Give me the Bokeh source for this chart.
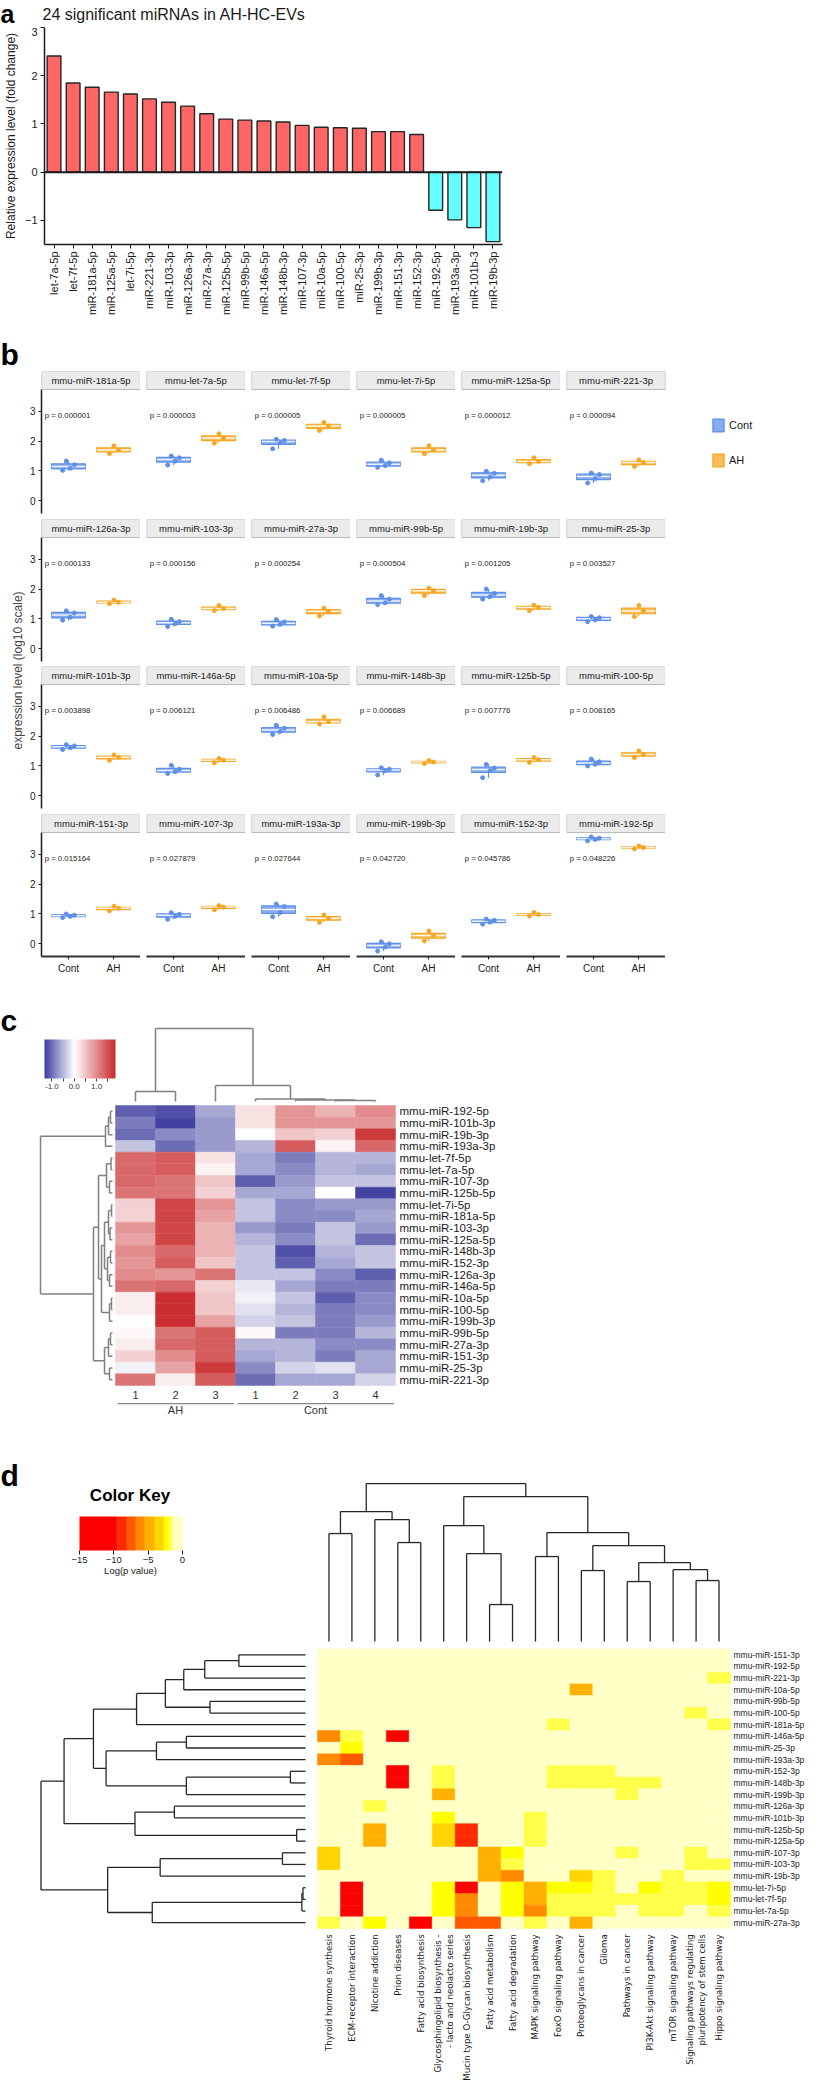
import math
import numpy as np
from bokeh.plotting import figure
from bokeh.layouts import column, row
from bokeh.models import (Range1d, FactorRange, FixedTicker, Span, Label, Legend, LegendItem,
                          ColumnDataSource, LinearColorMapper, ColorBar, BoxAnnotation,
                          PrintfTickFormatter)
from bokeh.core.properties import value
from bokeh.embed import file_html
from bokeh.resources import INLINE

FONT = "Liberation Sans"
INK = "#1a1a1a"

# ---------------- panel a data ----------------
title_a = "24 significant miRNAs in AH-HC-EVs"
mirna_a = ["let-7a-5p", "let-7f-5p", "miR-181a-5p", "miR-125a-5p", "let-7i-5p", "miR-221-3p",
           "miR-103-3p", "miR-126a-3p", "miR-27a-3p", "miR-125b-5p", "miR-99b-5p", "miR-146a-5p",
           "miR-148b-3p", "miR-107-3p", "miR-10a-5p", "miR-100-5p", "miR-25-3p", "miR-199b-3p",
           "miR-151-3p", "miR-152-3p", "miR-192-5p", "miR-193a-3p", "miR-101b-3", "miR-19b-3p"]
fold_change_a = [2.41, 1.85, 1.76, 1.66, 1.62, 1.52, 1.45, 1.37, 1.21, 1.10, 1.08, 1.06,
                 1.04, 0.97, 0.93, 0.92, 0.91, 0.84, 0.84, 0.78, -0.79, -0.99, -1.15, -1.44]
ticks_a = [-1, 0, 1, 2, 3]

# ---------------- panel b data ----------------
facet_mirna = ["mmu-miR-181a-5p", "mmu-let-7a-5p", "mmu-let-7f-5p", "mmu-let-7i-5p", "mmu-miR-125a-5p", "mmu-miR-221-3p",
               "mmu-miR-126a-3p", "mmu-miR-103-3p", "mmu-miR-27a-3p", "mmu-miR-99b-5p", "mmu-miR-19b-3p", "mmu-miR-25-3p",
               "mmu-miR-101b-3p", "mmu-miR-146a-5p", "mmu-miR-10a-5p", "mmu-miR-148b-3p", "mmu-miR-125b-5p", "mmu-miR-100-5p",
               "mmu-miR-151-3p", "mmu-miR-107-3p", "mmu-miR-193a-3p", "mmu-miR-199b-3p", "mmu-miR-152-3p", "mmu-miR-192-5p"]
facet_pvalue = [0.000001, 0.000003, 0.000005, 0.000005, 0.000012, 0.000094,
                0.000133, 0.000156, 0.000254, 0.000504, 0.001205, 0.003527,
                0.003898, 0.006121, 0.006486, 0.006689, 0.007776, 0.008165,
                0.015164, 0.027879, 0.027644, 0.042720, 0.045786, 0.048226]
cont_levels = [[1.02, 1.09, 1.21, 1.33], [1.20, 1.33, 1.44, 1.50], [1.74, 1.94, 2.02, 2.06], [1.12, 1.18, 1.27, 1.36],
               [0.67, 0.80, 0.92, 0.99], [0.60, 0.75, 0.88, 0.93], [0.96, 1.06, 1.20, 1.27], [0.75, 0.84, 0.91, 0.99],
               [0.76, 0.82, 0.90, 0.98], [1.48, 1.54, 1.66, 1.78], [1.66, 1.75, 1.85, 2.00], [0.91, 0.97, 1.04, 1.08],
               [1.55, 1.61, 1.67, 1.71], [0.75, 0.81, 0.89, 1.02], [2.05, 2.15, 2.26, 2.36], [0.70, 0.84, 0.89, 0.94],
               [0.61, 0.84, 0.93, 1.05], [1.00, 1.06, 1.14, 1.23], [0.88, 0.92, 0.96, 1.00], [0.82, 0.92, 0.99, 1.04],
               [0.91, 1.05, 1.25, 1.33], [-0.24, -0.10, 0.00, 0.07], [0.66, 0.73, 0.79, 0.83], [3.44, 3.49, 3.53, 3.57]]
ah_levels = [[1.58, 1.70, 1.84], [1.93, 2.10, 2.24], [2.35, 2.50, 2.62], [1.58, 1.70, 1.84],
             [1.24, 1.32, 1.44], [1.15, 1.28, 1.37], [1.51, 1.56, 1.63], [1.28, 1.35, 1.45],
             [1.10, 1.26, 1.36], [1.78, 1.94, 2.03], [1.28, 1.38, 1.46], [1.08, 1.27, 1.45],
             [1.19, 1.29, 1.37], [1.11, 1.19, 1.25], [2.40, 2.48, 2.64], [1.08, 1.13, 1.18],
             [1.12, 1.21, 1.28], [1.28, 1.38, 1.50], [1.10, 1.19, 1.26], [1.14, 1.23, 1.28],
             [0.72, 0.86, 0.97], [0.10, 0.28, 0.43], [0.93, 0.98, 1.05], [3.17, 3.22, 3.27]]
groups_b = ["Cont", "AH"]
ticks_b = [0, 1, 2, 3]

# ---------------- panel c data ----------------
rows_c = ["mmu-miR-192-5p", "mmu-miR-101b-3p", "mmu-miR-19b-3p", "mmu-miR-193a-3p", "mmu-let-7f-5p", "mmu-let-7a-5p",
          "mmu-miR-107-3p", "mmu-miR-125b-5p", "mmu-let-7i-5p", "mmu-miR-181a-5p", "mmu-miR-103-3p", "mmu-miR-125a-5p",
          "mmu-miR-148b-3p", "mmu-miR-152-3p", "mmu-miR-126a-3p", "mmu-miR-146a-5p", "mmu-miR-10a-5p", "mmu-miR-100-5p",
          "mmu-miR-199b-3p", "mmu-miR-99b-5p", "mmu-miR-27a-3p", "mmu-miR-151-3p", "mmu-miR-25-3p", "mmu-miR-221-3p"]
cols_c = ["1", "2", "3", "1", "2", "3", "4"]
groups_c = [("AH", 0, 3), ("Cont", 3, 7)]
heat_c = [[-1.1, -1.2, -0.6, 0.25, 0.9, 0.65, 1.0],
          [-0.9, -1.3, -0.7, 0.25, 0.9, 0.9, 0.9],
          [-1.0, -0.8, -0.7, 0.0, 0.5, 0.4, 1.7],
          [-0.4, -1.0, -0.7, -0.5, 1.4, 0.1, 1.3],
          [1.3, 1.4, 0.25, -0.6, -0.9, -0.5, -0.5],
          [1.3, 1.4, 0.1, -0.6, -0.8, -0.5, -0.6],
          [1.3, 1.2, 0.5, -1.1, -0.7, -0.4, -0.4],
          [1.2, 1.2, 0.4, -0.6, -0.6, 0.0, -1.3],
          [0.4, 1.6, 0.9, -0.4, -0.8, -0.7, -0.7],
          [0.4, 1.6, 0.8, -0.4, -0.8, -0.8, -0.6],
          [0.9, 1.6, 0.65, -0.7, -0.9, -0.4, -0.7],
          [0.8, 1.6, 0.65, -0.5, -0.8, -0.4, -1.0],
          [1.0, 1.3, 0.65, -0.4, -1.2, -0.5, -0.4],
          [0.9, 1.4, 0.5, -0.4, -1.1, -0.6, -0.4],
          [1.0, 0.9, 1.2, -0.4, -0.4, -0.8, -1.1],
          [1.2, 1.3, 0.4, -0.15, -0.6, -0.9, -0.9],
          [0.15, 1.8, 0.5, -0.1, -0.4, -1.1, -0.8],
          [0.15, 1.8, 0.5, -0.2, -0.5, -0.9, -0.8],
          [0.0, 1.8, 0.8, -0.3, -0.4, -0.9, -0.7],
          [0.05, 1.2, 1.4, 0.05, -0.9, -0.9, -0.5],
          [0.15, 1.3, 1.4, -0.5, -0.5, -0.8, -0.8],
          [0.4, 1.0, 1.4, -0.6, -0.5, -0.9, -0.6],
          [-0.1, 0.8, 1.7, -0.8, -0.3, -0.2, -0.6],
          [1.2, 0.15, 1.4, -1.0, -0.6, -0.6, -0.3]]
key_c_low, key_c_high = -1.33, 1.85
# dendrograms: (height, left, right); leaves are indices
tree_c_cols = (73, (10, 0, 1), (16, 2, (2.5, 3, (1.5, 4, (1, 5, 6)))))
tree_c_rows = (72,
               (7, (4, (2, 0, 1), 2), 3),
               (19,
                (14, (6, (1.5, 4, 5), (3, 6, 7)),
                 (11, (8, (4, (1, 8, 9), (2.5, 10, 11)), (5, (2, 12, 13), (3, 14, 15))),
                  (3, (1, 16, 17), 18))),
                (8, (4, (2, 19, 20), 21), (3, 22, 23))))

# ---------------- panel d data ----------------
rows_d = ["mmu-miR-151-3p", "mmu-miR-192-5p", "mmu-miR-221-3p", "mmu-miR-10a-5p", "mmu-miR-99b-5p", "mmu-miR-100-5p",
          "mmu-miR-181a-5p", "mmu-miR-146a-5p", "mmu-miR-25-3p", "mmu-miR-193a-3p", "mmu-miR-152-3p", "mmu-miR-148b-3p",
          "mmu-miR-199b-3p", "mmu-miR-126a-3p", "mmu-miR-101b-3p", "mmu-miR-125b-5p", "mmu-miR-125a-5p", "mmu-miR-107-3p",
          "mmu-miR-103-3p", "mmu-miR-19b-3p", "mmu-let-7i-5p", "mmu-let-7f-5p", "mmu-let-7a-5p", "mmu-miR-27a-3p"]
cols_d = ["Thyroid hormone synthesis", "ECM-receptor interaction", "Nicotine addiction", "Prion diseases",
          "Fatty acid biosynthesis", "Glycosphingolipid biosynthesis -\n- lacto and neolacto series",
          "Mucin type O-Glycan biosynthesis", "Fatty acid metabolism", "Fatty acid degradation",
          "MAPK signaling pathway", "FoxO signaling pathway", "Proteoglycans in cancer", "Glioma",
          "Pathways in cancer", "PI3K-Akt signaling pathway", "mTOR signaling pathway",
          "Signaling pathways regulating\npluripotency of stem cells", "Hippo signaling pathway"]
logp_d = [
    [0, 0, 0, 0, 0, 0, 0, 0, 0, 0, 0, 0, 0, 0, 0, 0, 0, 0],
    [0, 0, 0, 0, 0, 0, 0, 0, 0, 0, 0, 0, 0, 0, 0, 0, 0, 0],
    [0, 0, 0, 0, 0, 0, 0, 0, 0, 0, 0, 0, 0, 0, 0, 0, 0, -1.7],
    [0, 0, 0, 0, 0, 0, 0, 0, 0, 0, 0, -4.5, 0, 0, 0, 0, 0, 0],
    [0, 0, 0, 0, 0, 0, 0, 0, 0, 0, 0, 0, 0, 0, 0, 0, 0, 0],
    [0, 0, 0, 0, 0, 0, 0, 0, 0, 0, 0, 0, 0, 0, 0, 0, -1.7, 0],
    [0, 0, 0, 0, 0, 0, 0, 0, 0, 0, -1.7, 0, 0, 0, 0, 0, 0, -1.7],
    [-6.0, -1.7, 0, -12, 0, 0, 0, 0, 0, 0, 0, 0, 0, 0, 0, 0, 0, 0],
    [0, -2.4, 0, 0, 0, 0, 0, 0, 0, 0, 0, 0, 0, 0, 0, 0, 0, 0],
    [-6.0, -7.0, 0, 0, 0, 0, 0, 0, 0, 0, 0, 0, 0, 0, 0, 0, 0, 0],
    [0, 0, 0, -12, 0, -1.7, 0, 0, 0, 0, -1.7, -1.7, -1.7, 0, 0, 0, 0, 0],
    [0, 0, 0, -12, 0, -1.7, 0, 0, 0, 0, -1.7, -1.7, -1.7, -1.7, -1.7, 0, 0, 0],
    [0, 0, 0, 0, 0, -4.8, 0, 0, 0, 0, 0, 0, 0, -1.7, 0, 0, 0, 0],
    [0, 0, -1.7, 0, 0, 0, 0, 0, 0, 0, 0, 0, 0, 0, 0, 0, 0, 0],
    [0, 0, 0, 0, 0, -2.4, 0, 0, 0, -1.7, 0, 0, 0, 0, 0, 0, 0, 0],
    [0, 0, -4.6, 0, 0, -3.6, -9.2, 0, 0, -1.7, 0, 0, 0, 0, 0, 0, 0, 0],
    [0, 0, -4.6, 0, 0, -3.6, -9.2, 0, 0, -1.7, 0, 0, 0, 0, 0, 0, 0, 0],
    [-4.0, 0, 0, 0, 0, 0, 0, -4.8, -2.2, 0, 0, 0, 0, -1.7, 0, 0, -1.7, 0],
    [-3.6, 0, 0, 0, 0, 0, 0, -4.8, -1.7, 0, 0, 0, 0, 0, 0, 0, -1.7, -1.7],
    [0, 0, 0, 0, 0, 0, 0, -4.8, -6.0, 0, 0, -3.9, -1.7, 0, 0, -1.7, 0, 0],
    [0, -12, 0, 0, 0, -2.4, -12, 0, -2.4, -4.8, -2.4, -2.4, -1.7, 0, -2.4, -1.7, -1.7, -2.4],
    [0, -12, 0, 0, 0, -2.4, -6.4, 0, -2.4, -5.2, -1.7, -1.7, -1.7, -1.7, -1.7, -1.7, -1.7, -2.4],
    [0, -12, 0, 0, 0, -2.4, -6.4, 0, -2.4, -6.0, -1.7, -1.7, -1.7, 0, -1.7, -1.7, 0, -1.7],
    [-1.7, 0, -2.4, 0, -12, 0, -7.6, -7.6, 0, -1.7, 0, -4.8, 0, 0, 0, 0, 0, 0],
]
key_d_breaks = [-15, -9.6, -8.2, -6.9, -5.5, -4.1, -2.75, -2.0, -1.4, 0]
key_d_colors = ["#FF0000", "#FF2A00", "#FF5A00", "#FF8A00", "#FFB000", "#FFD400", "#FFFF00", "#FFFF4A", "#FFFFC6"]
key_d_ticks = [-15, -10, -5, 0]
tree_d_rows = (264.6,
               (241.5,
                (212.1,
                 (169, (140.2, (121.8, (100.8, (66.7, 0, 1), 2), 3), (95.6, 4, 5)), 6),
                 (199.5, (149.1, (119.2, 7, 8), 9), (119.2, (15.2, 10, 11), 12))),
                (170.6, (131.2, 13, 14), (8.9, 15, 16))),
               (197.9, (145.4, (23.1, 17, 18), 19), (153.3, (3.7, (2.6, 20, 21), 22), 23)))
tree_d_cols = (158,
               (130, (108, 0, 1), (122, 2, (99, 3, 4))),
               (145, (116, 5, (88, 6, (37, 7, 8))),
                (109, (85, 9, 10), (96, (71, 11, 12), (79, (60, 13, 14), (72, 15, (61, 16, 17)))))))


# ---------------- helpers ----------------
def new_fig(**kw):
    p = figure(output_backend="svg", toolbar_location=None, **kw)
    if hasattr(p, "frame_align"):
        p.frame_align = False
    p.outline_line_color = None
    p.grid.visible = False
    p.background_fill_color = "white"
    p.border_fill_color = "white"
    return p


def header(height):
    # blank strip whose frame is the whole canvas, used for panel letters / titles
    return new_fig(x_range=Range1d(0, 1), y_range=Range1d(0, 1), frame_width=807, frame_height=height,
                   min_border_left=0, min_border_right=0, min_border_top=0, min_border_bottom=0,
                   x_axis_location=None, y_axis_location=None)


def style_axis(ax, size="11px"):
    ax.axis_line_color = INK
    ax.axis_line_width = 1.5
    ax.major_tick_line_color = INK
    ax.major_tick_out = 4
    ax.major_tick_in = 0
    ax.minor_tick_line_color = None
    ax.major_label_text_font = FONT
    ax.major_label_text_font_size = size
    ax.major_label_text_color = INK
    ax.major_label_standoff = 3
    ax.axis_label_text_font = FONT
    ax.axis_label_text_font_style = "normal"
    ax.axis_label_text_color = INK


def letter(p, txt, x, y, size="30px"):
    # y is the vertical middle of the em box, in canvas pixels from the top
    p.add_layout(Label(x=x, y=y, x_units="canvas", y_units="canvas", text=txt, text_font=FONT,
                       text_font_style="bold", text_font_size=size, text_color="black",
                       text_baseline="middle", text_align="left"))


def dendro(node, pos):
    if isinstance(node, int):
        return pos[node], 0.0, []
    h, a, b = node
    ca, ha_, sa = dendro(a, pos)
    cb, hb_, sb = dendro(b, pos)
    segs = sa + sb + [(ca, ha_, ca, h), (cb, hb_, cb, h), (ca, h, cb, h)]
    return (ca + cb) / 2.0, h, segs


def draw_dendro(p, tree, n, base, scale, orient, **kw):
    _, _, segs = dendro(tree, [i + 0.5 for i in range(n)])
    if orient == "col":
        p.segment(x0=[s[0] for s in segs], y0=[base - s[1] * scale for s in segs],
                  x1=[s[2] for s in segs], y1=[base - s[3] * scale for s in segs], **kw)
    else:
        p.segment(x0=[base - s[1] * scale for s in segs], y0=[s[0] for s in segs],
                  x1=[base - s[3] * scale for s in segs], y1=[s[2] for s in segs], **kw)


def hex_mix(c1, c2, f):
    a = [int(c1[i:i + 2], 16) for i in (1, 3, 5)]
    b = [int(c2[i:i + 2], 16) for i in (1, 3, 5)]
    return "#%02x%02x%02x" % tuple(int(round(a[k] + (b[k] - a[k]) * f)) for k in range(3))


# ---------------- panel a ----------------
ha = header(27)
letter(ha, "a", 0, 13.5, "25px")
ha.add_layout(Label(x=42, y=14, x_units="canvas", y_units="canvas", text=title_a, text_font=FONT,
                    text_font_size="16px", text_color=INK, text_baseline="middle", text_align="left"))

fa = new_fig(x_range=FactorRange(factors=mirna_a), y_range=Range1d(-1.5, 3.0),
             frame_width=458, frame_height=217, min_border_left=41, min_border_right=308,
             min_border_top=0, min_border_bottom=93)
src_a = ColumnDataSource(dict(x=mirna_a, top=fold_change_a,
                              color=["#FF6666" if v > 0 else "#66FFFF" for v in fold_change_a]))
fa.vbar(x="x", top="top", bottom=0, width=0.72, fill_color="color", line_color="#262626",
        line_width=1.4, source=src_a)
fa.add_layout(Span(location=0, dimension="width", line_color=INK, line_width=2))
style_axis(fa.xaxis[0], "11px")
style_axis(fa.yaxis[0], "11px")
fa.xaxis.major_label_orientation = math.pi / 2
fa.yaxis.ticker = FixedTicker(ticks=ticks_a)
fa.yaxis.axis_label = "Relative expression level (fold change)"
fa.yaxis.axis_label_text_font_size = "12px"
fa.yaxis.axis_label_standoff = 4

# ---------------- panel b ----------------
hb = header(34)
letter(hb, "b", 0, 17)

fy = new_fig(x_range=Range1d(0, 1), y_range=Range1d(0, 1), frame_width=1, frame_height=598,
             min_border_left=24, min_border_right=0, min_border_top=0, min_border_bottom=15,
             x_axis_location=None, y_axis_location="left")
fy.yaxis.ticker = FixedTicker(ticks=[])
fy.yaxis.axis_line_color = None
fy.yaxis.major_tick_line_color = None
fy.yaxis.minor_tick_line_color = None
fy.yaxis.axis_label = "expression level (log10 scale)"
fy.yaxis.axis_label_text_font = FONT
fy.yaxis.axis_label_text_font_style = "normal"
fy.yaxis.axis_label_text_font_size = "12px"
fy.yaxis.axis_label_standoff = 0

C_CONT = "#5E8FE9"
C_AH = "#F6A623"
jit_cont = [-0.13, 0.04, 0.13, -0.05]
jit_ah = [-0.09, 0.11, 0.01]
Y_LO, Y_HI, STRIP = -0.42, 3.72, 0.601


def box_stats(vals):
    v = np.array(vals, dtype=float)
    q1, med, q3 = np.percentile(v, [25, 50, 75])
    iqr = q3 - q1
    lo = v[v >= q1 - 1.5 * iqr].min()
    hi = v[v <= q3 + 1.5 * iqr].max()
    return q1, med, q3, lo, hi


facet_rows = []
for r in range(4):
    figs = []
    for c in range(6):
        k = r * 6 + c
        legend_fig = (r == 0 and c == 5)
        p = new_fig(x_range=Range1d(0.4, 2.6), y_range=Range1d(Y_LO, Y_HI + STRIP),
                    frame_width=99, frame_height=142,
                    min_border_left=16 if c == 0 else 6,
                    min_border_right=0, min_border_top=0,
                    min_border_bottom=[6, 5, 6, 28][r],
                    x_axis_location="below" if r == 3 else None,
                    y_axis_location="left" if c == 0 else None)
        p.add_layout(BoxAnnotation(bottom=Y_HI, fill_color="#EBEBEB", fill_alpha=1.0,
                                   line_color="#333333", line_width=1.2))
        p.add_layout(Label(x=1.5, y=Y_HI + STRIP / 2, text=facet_mirna[k], text_align="center",
                           text_baseline="middle", text_font=FONT, text_font_size="9.5px", text_color=INK))
        p.add_layout(Label(x=0.47, y=2.85, text="p = %.6f" % facet_pvalue[k], text_align="left",
                           text_baseline="middle", text_font=FONT, text_font_size="7.8px", text_color=INK))
        rends = []
        for gx, vals, col, jit in ((1, cont_levels[k], C_CONT, jit_cont), (2, ah_levels[k], C_AH, jit_ah)):
            q1, med, q3, lo, hi = box_stats(vals)
            p.segment(x0=[gx, gx], y0=[lo, q3], x1=[gx, gx], y1=[q1, hi], line_color=col, line_width=1.2)
            rb = p.vbar(x=[gx], bottom=[q1], top=[q3], width=0.75, fill_color=col, fill_alpha=0.75,
                        line_color=col, line_width=1.2)
            p.segment(x0=[gx - 0.375], x1=[gx + 0.375], y0=[med], y1=[med], line_color="white",
                      line_alpha=0.85, line_width=1.5)
            p.scatter(x=[gx + j for j in jit], y=vals, size=4, color=col)
            rends.append(rb)
        if c == 0:
            style_axis(p.yaxis[0], "10px")
            p.yaxis.ticker = FixedTicker(ticks=ticks_b)
            p.yaxis.bounds = (Y_LO, Y_HI)
            p.yaxis.major_tick_out = 3
        if r == 3:
            style_axis(p.xaxis[0], "10px")
            p.xaxis.ticker = FixedTicker(ticks=[1, 2])
            p.xaxis.major_label_overrides = {1: groups_b[0], 2: groups_b[1]}
            p.xaxis.axis_line_width = 2
            p.xaxis.axis_line_color = "#333333"
            p.xaxis.major_tick_out = 3
        if legend_fig:
            leg = Legend(items=[LegendItem(label=groups_b[0], renderers=[rends[0]]),
                                LegendItem(label=groups_b[1], renderers=[rends[1]])],
                         location="top_left", glyph_width=14, glyph_height=16, label_height=16,
                         spacing=19, padding=2, margin=46, label_standoff=4,
                         label_text_font=FONT, label_text_font_size="11px", label_text_color=INK,
                         background_fill_alpha=0, border_line_color=None)
            p.add_layout(leg, "right")
        figs.append(p)
    facet_rows.append(row(*figs))

panel_b = row(fy, column(*facet_rows))

# ---------------- panel c ----------------
CW_C, RH_C = 40.0, 280.0 / 24
fc = new_fig(x_range=Range1d(-115 / CW_C, (807 - 115) / CW_C),
             y_range=Range1d((448 - 121) / RH_C, -121 / RH_C),
             frame_width=807, frame_height=448, min_border_left=0, min_border_right=0,
             min_border_top=0, min_border_bottom=0,
             x_axis_location=None, y_axis_location=None)
pal_c = []
for kk in range(256):
    v = key_c_low + (kk + 0.5) / 256 * (key_c_high - key_c_low)
    if v < 0:
        pal_c.append(hex_mix("#ffffff", "#3d3d9e", v / key_c_low))
    else:
        pal_c.append(hex_mix("#ffffff", "#c8282a", v / key_c_high))
mapper_c = LinearColorMapper(palette=pal_c, low=key_c_low, high=key_c_high)
ii, jj = np.meshgrid(np.arange(len(rows_c)), np.arange(len(cols_c)), indexing="ij")
src_c = ColumnDataSource(dict(x=(jj + 0.5).ravel(), y=(ii + 0.5).ravel(), v=np.array(heat_c).ravel()))
fc.rect(x="x", y="y", width=1, height=1, source=src_c,
        fill_color={"field": "v", "transform": mapper_c},
        line_color={"field": "v", "transform": mapper_c}, line_width=0.5)
fc.text(x=[len(cols_c) + 0.1] * len(rows_c), y=[i + 0.5 for i in range(len(rows_c))], text=rows_c,
        text_font=value(FONT), text_font_size="11.5px", text_baseline="middle", text_align="left",
        text_color=INK)
fc.text(x=[j + 0.5 for j in range(len(cols_c))], y=[len(rows_c) + 0.8] * len(cols_c), text=cols_c,
        text_font=value(FONT), text_font_size="11px", text_baseline="middle", text_align="center",
        text_color="#333333")
fc.segment(x0=[g[1] + 0.05 for g in groups_c], x1=[g[2] - 0.04 for g in groups_c],
           y0=[len(rows_c) + 1.55] * 2, y1=[len(rows_c) + 1.55] * 2, line_color="#888888", line_width=1.3)
fc.text(x=[(g[1] + g[2]) / 2 for g in groups_c], y=[len(rows_c) + 2.1] * 2, text=[g[0] for g in groups_c],
        text_font=value(FONT), text_font_size="11px", text_baseline="middle", text_align="center",
        text_color="#333333")
draw_dendro(fc, tree_c_cols, len(cols_c), -0.34, 1 / RH_C, "col", line_color="#808080", line_width=1.5)
draw_dendro(fc, tree_c_rows, len(rows_c), -0.075, 1 / CW_C, "row", line_color="#808080", line_width=1.5)
cb_c = ColorBar(color_mapper=mapper_c, orientation="horizontal", location=(44, 341), width=71, height=39,
                padding=0, ticker=FixedTicker(ticks=[-1, 0, 1], minor_ticks=[-0.5, 0.5, 1.5]),
                formatter=PrintfTickFormatter(format="%.1f"),
                major_tick_in=0, major_tick_out=3, major_tick_line_color="#444444",
                minor_tick_in=0, minor_tick_out=3, minor_tick_line_color="#444444",
                major_label_text_font=FONT, major_label_text_font_size="8px", major_label_text_color="#333333",
                label_standoff=2, bar_line_color=None, border_line_color=None, background_fill_alpha=0)
fc.add_layout(cb_c)
letter(fc, "c", 0, 36)

# ---------------- panel d ----------------
CW_D, RH_D = 413.0 / 18, 279.5 / 24
fd = new_fig(x_range=Range1d(-317 / CW_D, (807 - 317) / CW_D),
             y_range=Range1d((652 - 216.5) / RH_D, -216.5 / RH_D),
             frame_width=807, frame_height=652, min_border_left=0, min_border_right=0,
             min_border_top=0, min_border_bottom=0,
             x_axis_location=None, y_axis_location=None)
N_D = 150
centers_d = key_d_breaks[0] + (np.arange(N_D) + 0.5) * (key_d_breaks[-1] - key_d_breaks[0]) / N_D
idx_d = np.clip(np.digitize(centers_d, key_d_breaks) - 1, 0, len(key_d_colors) - 1)
pal_d = [key_d_colors[i] for i in idx_d]
mapper_d = LinearColorMapper(palette=pal_d, low=key_d_breaks[0], high=key_d_breaks[-1])
ii, jj = np.meshgrid(np.arange(len(rows_d)), np.arange(len(cols_d)), indexing="ij")
src_d = ColumnDataSource(dict(x=(jj + 0.5).ravel(), y=(ii + 0.5).ravel(), v=np.array(logp_d, dtype=float).ravel()))
fd.rect(x="x", y="y", width=1, height=1, source=src_d,
        fill_color={"field": "v", "transform": mapper_d},
        line_color={"field": "v", "transform": mapper_d}, line_width=0.5)
fd.text(x=[len(cols_d) + 0.13] * len(rows_d), y=[i + 0.5 for i in range(len(rows_d))], text=rows_d,
        text_font=value(FONT), text_font_size="8.5px", text_baseline="middle", text_align="left",
        text_color=INK)
fd.text(x=[j + 0.5 for j in range(len(cols_d))], y=[len(rows_d) + 0.5] * len(cols_d), text=cols_d,
        angle=math.pi / 2, text_font=value("DejaVu Sans"), text_font_size="8.6px", text_baseline="middle",
        text_align="right", text_color=INK)
draw_dendro(fd, tree_d_cols, len(cols_d), -0.64, 1 / RH_D, "col", line_color="#262626", line_width=1.3)
draw_dendro(fd, tree_d_rows, len(rows_d), -0.52, 1 / CW_D, "row", line_color="#262626", line_width=1.3)
cb_d = ColorBar(color_mapper=mapper_d, orientation="horizontal", location=(79, 519), width=103, height=34,
                padding=0, ticker=FixedTicker(ticks=key_d_ticks),
                major_tick_in=0, major_tick_out=4, major_tick_line_color=INK,
                major_label_text_font=FONT, major_label_text_font_size="9.5px", major_label_text_color=INK,
                label_standoff=2, bar_line_color=None, border_line_color=None, background_fill_alpha=0)
fd.add_layout(cb_d)
fd.add_layout(Label(x=129.5, y=63, x_units="canvas", y_units="canvas", text="Color Key", text_font=FONT,
                    text_font_style="bold", text_font_size="17px", text_align="center",
                    text_baseline="middle", text_color="black"))
fd.add_layout(Label(x=130, y=138, x_units="canvas", y_units="canvas", text="Log(p value)", text_font=FONT,
                    text_font_size="9.5px", text_align="center", text_baseline="middle", text_color=INK))
letter(fd, "d", 0, 43)

layout = column(ha, fa, hb, panel_b, fc, fd)
open("out.html", "w").write(file_html(layout, INLINE))
